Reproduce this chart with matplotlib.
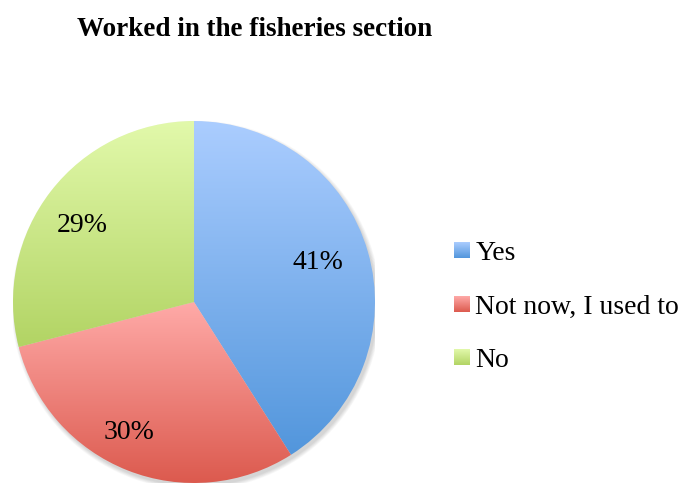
# pie chart of survey answers, with vertical gradient fills on each slice
import numpy as np
import matplotlib
matplotlib.use('Agg')
import matplotlib.pyplot as plt
from matplotlib.colors import LinearSegmentedColormap
from matplotlib.legend_handler import HandlerBase
from matplotlib.image import BboxImage
from matplotlib.transforms import Bbox, TransformedBbox
from matplotlib.patches import Patch, Circle

# survey data
categories = ['Yes', 'Not now, I used to', 'No']
shares = [41, 30, 29]
# gradient end colours per slice (top, bottom)
top_colors = ['#abcdff', '#ffaaa8', '#e2f9ab']
bottom_colors = ['#5296dc', '#dc5a4e', '#b2d464']

plt.rcParams['font.family'] = ['Liberation Serif', 'DejaVu Serif']

fig = plt.figure(figsize=(6.83, 4.83), dpi=100)
W, H = 683, 483
cx, cy, r = 194, 302, 181
ax = fig.add_axes([(cx - r) / W, (H - cy - r) / H, 2 * r / W, 2 * r / H])
ax.axis('off')

# soft shadow under the pie
for k in range(6):
    ax.add_patch(Circle((0.012, -0.018), 1.0 + 0.004 * k, color='black',
                        alpha=0.028, lw=0, zorder=0))

cmaps = [LinearSegmentedColormap.from_list(c, [b, t])
         for c, t, b in zip(categories, top_colors, bottom_colors)]

wedges, texts, autotexts = ax.pie(shares, startangle=90, counterclock=False,
                                  radius=1, autopct='%1.0f%%', pctdistance=0.75,
                                  wedgeprops=dict(linewidth=0),
                                  textprops=dict(fontsize=20))

grad = np.linspace(0, 1, 256).reshape(-1, 1)
for w, cm in zip(wedges, cmaps):
    ext = w.get_path().get_extents()
    w.set_facecolor('none')
    im = ax.imshow(grad, cmap=cm, origin='lower', aspect='auto',
                   extent=[ext.x0, ext.x1, ext.y0, ext.y1], zorder=1)
    im.set_clip_path(w)

# nudge labels for the left-hand slices
autotexts[0].set_position((0.685, 0.22))
autotexts[1].set_position((-0.36, -0.72))
autotexts[2].set_position((-0.62, 0.42))
for t in autotexts:
    t.set_zorder(3)

ax.set_xlim(-1, 1)
ax.set_ylim(-1, 1)


class GradientHandler(HandlerBase):
    def __init__(self, cmap):
        super().__init__()
        self.cmap = cmap

    def create_artists(self, legend, orig_handle, xdescent, ydescent,
                       width, height, fontsize, trans):
        bb = Bbox.from_bounds(-xdescent, -ydescent + (height - width) / 2,
                              width, width)
        img = BboxImage(TransformedBbox(bb, trans), cmap=self.cmap,
                        origin='lower', interpolation='bilinear')
        img.set_data(grad)
        return [img]


handles = [Patch(label=c) for c in categories]
fig.legend(handles=handles, labels=categories,
           handler_map={h: GradientHandler(cm) for h, cm in zip(handles, cmaps)},
           loc='center left', bbox_to_anchor=(454 / W, 1 - 307 / H),
           frameon=False, fontsize=20, handlelength=0.55, handletextpad=0.22,
           labelspacing=1.0, borderpad=0, borderaxespad=0)

fig.text(255 / W, 1 - 36 / H, 'Worked in the fisheries section',
         ha='center', va='baseline', fontsize=19.5, fontweight='bold')

fig.savefig('out.png', dpi=100)
